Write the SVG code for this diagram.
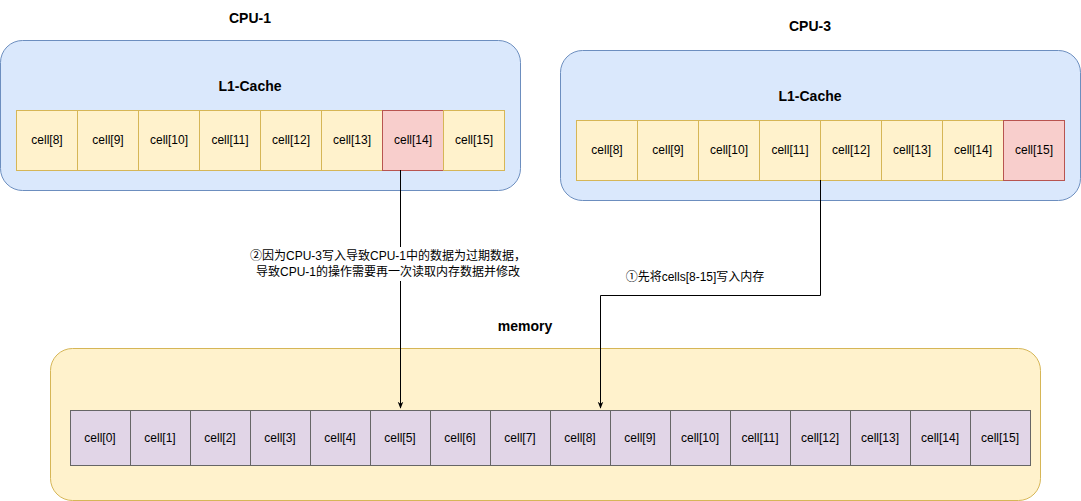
<svg xmlns="http://www.w3.org/2000/svg" width="1081" height="501" viewBox="0 0 1081 501">
<defs>
<style>
text{font-family:"Liberation Sans","Noto Sans CJK SC",sans-serif;font-size:12px;text-anchor:middle;dominant-baseline:central;fill:#000}
.t{font-weight:bold;font-size:14px}
.cpu{fill:#dae8fc;stroke:#6c8ebf}
.mem{fill:#fff2cc;stroke:#d6b656}
.c{fill:#fff2cc;stroke:#d6b656}
.p{fill:#f8cecc;stroke:#b85450}
.m{fill:#e1d5e7;stroke:#666}
.e{fill:none;stroke:#000;stroke-width:1;marker-end:url(#a)}
</style>
<marker id="a" viewBox="0 0 10 10" refX="9" refY="5" markerWidth="7" markerHeight="7" orient="auto"><path d="M0,1 L10,5 L0,9 L3,5Z" fill="#000"/></marker>
</defs>
<rect width="1081" height="501" fill="#fff"/>
<g id="cpu1">
<text class="t" x="250" y="18">CPU-1</text>
<rect class="cpu" x="0.5" y="40.5" width="520" height="150" rx="22"/>
<text class="t" x="250" y="86">L1-Cache</text>
<rect class="c" x="16.5" y="110.5" width="61" height="60"/><text x="47" y="140">cell[8]</text>
<rect class="c" x="77.5" y="110.5" width="61" height="60"/><text x="108" y="140">cell[9]</text>
<rect class="c" x="138.5" y="110.5" width="61" height="60"/><text x="169" y="140">cell[10]</text>
<rect class="c" x="199.5" y="110.5" width="61" height="60"/><text x="230" y="140">cell[11]</text>
<rect class="c" x="260.5" y="110.5" width="61" height="60"/><text x="291" y="140">cell[12]</text>
<rect class="c" x="321.5" y="110.5" width="61" height="60"/><text x="352" y="140">cell[13]</text>
<rect class="p" x="382.5" y="110.5" width="61" height="60"/><text x="413" y="140">cell[14]</text>
<rect class="c" x="443.5" y="110.5" width="61" height="60"/><text x="474" y="140">cell[15]</text>
</g>
<g id="cpu3">
<text class="t" x="810" y="26">CPU-3</text>
<rect class="cpu" x="560.5" y="50.5" width="520" height="150" rx="22"/>
<text class="t" x="810" y="96">L1-Cache</text>
<rect class="c" x="576.5" y="120.5" width="61" height="60"/><text x="607" y="150">cell[8]</text>
<rect class="c" x="637.5" y="120.5" width="61" height="60"/><text x="668" y="150">cell[9]</text>
<rect class="c" x="698.5" y="120.5" width="61" height="60"/><text x="729" y="150">cell[10]</text>
<rect class="c" x="759.5" y="120.5" width="61" height="60"/><text x="790" y="150">cell[11]</text>
<rect class="c" x="820.5" y="120.5" width="61" height="60"/><text x="851" y="150">cell[12]</text>
<rect class="c" x="881.5" y="120.5" width="61" height="60"/><text x="912" y="150">cell[13]</text>
<rect class="c" x="942.5" y="120.5" width="61" height="60"/><text x="973" y="150">cell[14]</text>
<rect class="p" x="1003.5" y="120.5" width="61" height="60"/><text x="1034" y="150">cell[15]</text>
</g>
<g id="memory">
<text class="t" x="525" y="326">memory</text>
<rect class="mem" x="50.5" y="348.5" width="990" height="152" rx="22"/>
<rect class="m" x="70.5" y="410.5" width="60" height="55"/><text x="100" y="438">cell[0]</text>
<rect class="m" x="130.5" y="410.5" width="60" height="55"/><text x="160" y="438">cell[1]</text>
<rect class="m" x="190.5" y="410.5" width="60" height="55"/><text x="220" y="438">cell[2]</text>
<rect class="m" x="250.5" y="410.5" width="60" height="55"/><text x="280" y="438">cell[3]</text>
<rect class="m" x="310.5" y="410.5" width="60" height="55"/><text x="340" y="438">cell[4]</text>
<rect class="m" x="370.5" y="410.5" width="60" height="55"/><text x="400" y="438">cell[5]</text>
<rect class="m" x="430.5" y="410.5" width="60" height="55"/><text x="460" y="438">cell[6]</text>
<rect class="m" x="490.5" y="410.5" width="60" height="55"/><text x="520" y="438">cell[7]</text>
<rect class="m" x="550.5" y="410.5" width="60" height="55"/><text x="580" y="438">cell[8]</text>
<rect class="m" x="610.5" y="410.5" width="60" height="55"/><text x="640" y="438">cell[9]</text>
<rect class="m" x="670.5" y="410.5" width="60" height="55"/><text x="700" y="438">cell[10]</text>
<rect class="m" x="730.5" y="410.5" width="60" height="55"/><text x="760" y="438">cell[11]</text>
<rect class="m" x="790.5" y="410.5" width="60" height="55"/><text x="820" y="438">cell[12]</text>
<rect class="m" x="850.5" y="410.5" width="60" height="55"/><text x="880" y="438">cell[13]</text>
<rect class="m" x="910.5" y="410.5" width="60" height="55"/><text x="940" y="438">cell[14]</text>
<rect class="m" x="970.5" y="410.5" width="60" height="55"/><text x="1000" y="438">cell[15]</text>
</g>
<g id="connectors">
<path class="e" d="M400.5,170 V408"/>
<rect x="228" y="247" width="320" height="34" fill="#fff"/>
<text x="388" y="256">②因为CPU-3写入导致CPU-1中的数据为过期数据，</text>
<text x="388" y="272">导致CPU-1的操作需要再一次读取内存数据并修改</text>
<path class="e" d="M820.5,180 V295.5 H600.5 V408"/>
<text x="695" y="277">①先将cells[8-15]写入内存</text>
</g>
</svg>
